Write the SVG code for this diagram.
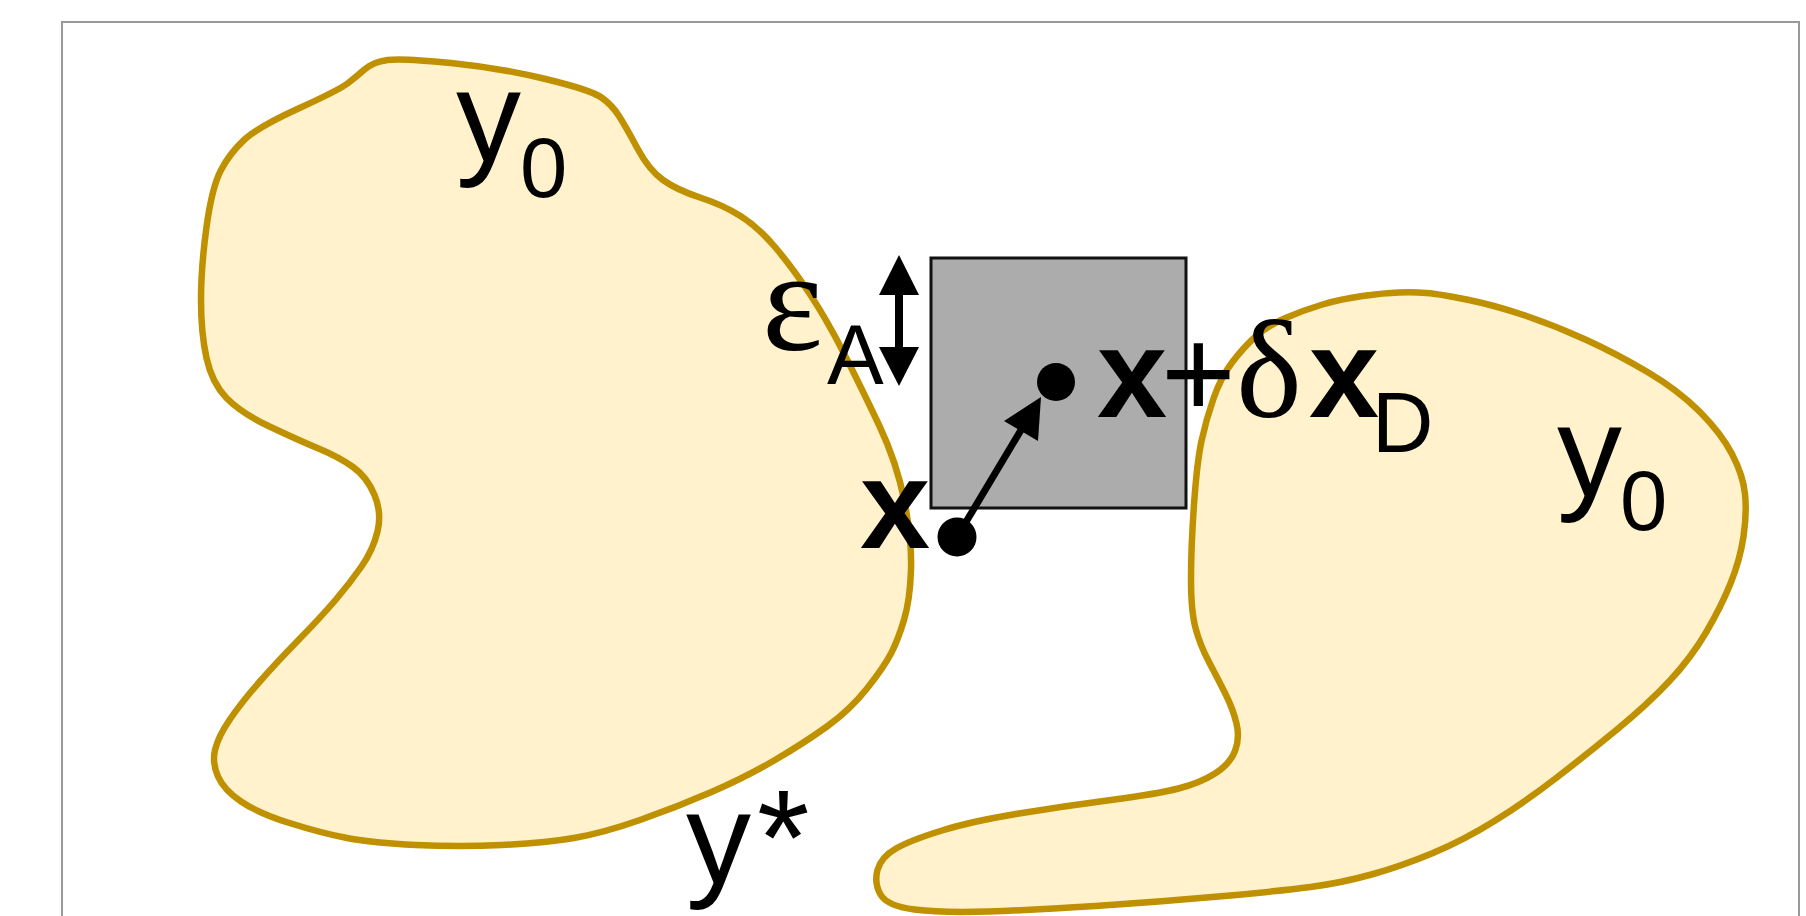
<svg xmlns="http://www.w3.org/2000/svg" width="1806" height="916" viewBox="0 0 1806 916">
<style>
.blob{fill:#FFF2CC;stroke:#BF9000;stroke-width:6.5;stroke-linejoin:round}
.sans{font-family:"Liberation Sans",Arial,sans-serif;fill:#000}
.bold{font-family:"Liberation Sans",Arial,sans-serif;font-weight:bold;fill:#000}
.serif{font-family:"Liberation Serif","Times New Roman",serif;fill:#000}
</style>
<rect x="0" y="0" width="1806" height="916" fill="#fff"/>
<rect id="frame" x="62" y="22" width="1737" height="1000" fill="none" stroke="#999" stroke-width="2"/>
<g id="region-left">
<path class="blob" d="M364.5,69.5 Q373,62 387.5,60 Q402,58 451,63 Q500,68 545.5,79 Q591,90 601.5,97.5 Q612,105 619,116 Q626,127 637.5,148.5 Q649,170 663,180 Q677,190 700,197.5 Q723,205 740.5,216 Q758,227 775,247 Q792,267 809.5,293.5 Q827,320 844,353.5 Q861,387 879,425 Q897,463 904.5,501.5 Q912,540 911,570 Q910,600 904,620 Q898,640 891,653.5 Q884,667 867,688.5 Q850,710 827,726.5 Q804,743 775,760 Q746,777 711.5,792 Q677,807 640,820 Q603,833 574,838 Q545,843 502,845 Q459,847 416,845 Q373,843 347,838 Q321,833 289.5,823 Q258,813 241,801.5 Q224,790 218,776.5 Q212,763 215,750 Q218,737 229.5,720 Q241,703 258.5,683 Q276,663 298.5,640 Q321,617 335.5,600 Q350,583 361.5,566.5 Q373,550 377.5,531.5 Q382,513 374.5,495 Q367,477 353,467 Q339,457 318.5,448.5 Q298,440 269.5,426.5 Q241,413 226.5,398 Q212,383 206.5,358 Q201,333 201,300 Q201,267 206.5,227 Q212,187 221,170 Q230,153 244,140 Q258,127 298.5,108.5 Q339,90 347.5,83.5 Q356,77 364.5,69.5 Z"/>
<text class="sans" font-size="130" x="456" y="161">y</text>
<text class="sans" font-size="85" x="520" y="197">0</text>
<text class="sans" font-size="130" x="686" y="883">y</text>
<text class="sans" font-size="135" x="757" y="884">*</text>
</g>
<g id="region-right">
<path class="blob" d="M1362.5,296 Q1384,293 1399,292.5 Q1414,292 1426.5,293 Q1439,294 1466.5,299.5 Q1494,305 1525,315.5 Q1556,326 1586.5,340 Q1617,354 1647.5,372 Q1678,390 1699.5,411.5 Q1721,433 1732,454 Q1743,475 1745,494 Q1747,513 1743.5,536.5 Q1740,560 1730.5,583.5 Q1721,607 1706,632.5 Q1691,658 1669.5,681 Q1648,704 1617,729.5 Q1586,755 1555.5,778.5 Q1525,802 1494.5,821 Q1464,840 1433,853 Q1402,866 1371.5,874.5 Q1341,883 1310.5,887 Q1280,891 1218.5,896.5 Q1157,902 1095.5,906 Q1034,910 988,911.5 Q942,913 914.5,909.5 Q887,906 880.5,894.5 Q874,883 877.5,870 Q881,857 896,848.5 Q911,840 942,830.5 Q973,821 1019,813.5 Q1065,806 1111,800 Q1157,794 1178.5,788.5 Q1200,783 1215,773.5 Q1230,764 1235,751 Q1240,738 1236.5,723.5 Q1233,709 1225.5,694 Q1218,679 1209,662 Q1200,645 1195.5,628 Q1191,611 1191,579 Q1191,547 1194,504.5 Q1197,462 1201.5,441 Q1206,420 1213.5,398.5 Q1221,377 1232,362.5 Q1243,348 1255,337 Q1267,326 1285.5,318 Q1304,310 1322.5,304.5 Q1341,299 1362.5,296 Z"/>
<text class="sans" font-size="130" x="1557" y="496">y</text>
<text class="sans" font-size="85" x="1620" y="530">0</text>
</g>
<g id="box">
<rect x="931" y="258" width="255" height="250" fill="#acacac" stroke="#111" stroke-width="3"/>
</g>
<g id="point-x">
<circle cx="957" cy="537" r="19.5" fill="#000"/>
<text class="bold" font-size="126" x="860" y="548">x</text>
</g>
<g id="point-xd">
<circle cx="1056" cy="382" r="19" fill="#000"/>
<text class="bold" font-size="126" x="1097" y="417">x</text>
<text class="sans" font-size="128" x="1161" y="417">+</text>
<text class="serif" font-size="140" x="1236" y="417">δ</text>
<text class="bold" font-size="126" x="1309" y="417">x</text>
<text class="sans" font-size="85" x="1372" y="452">D</text>
</g>
<g id="epsilon">
<text class="serif" font-size="145" x="762" y="350">ε</text>
<text class="sans" font-size="85" x="827" y="384">A</text>
</g>
<g id="connectors">
<line x1="899" y1="290" x2="899" y2="350" stroke="#000" stroke-width="8"/>
<polygon points="899,255 879,295 919,295" fill="#000"/>
<polygon points="899,386 879,347 919,347" fill="#000"/>
<line x1="957" y1="537" x2="1024" y2="425" stroke="#000" stroke-width="7"/>
<polygon points="1041,397 1004,421 1038,441" fill="#000"/>
</g>
</svg>
